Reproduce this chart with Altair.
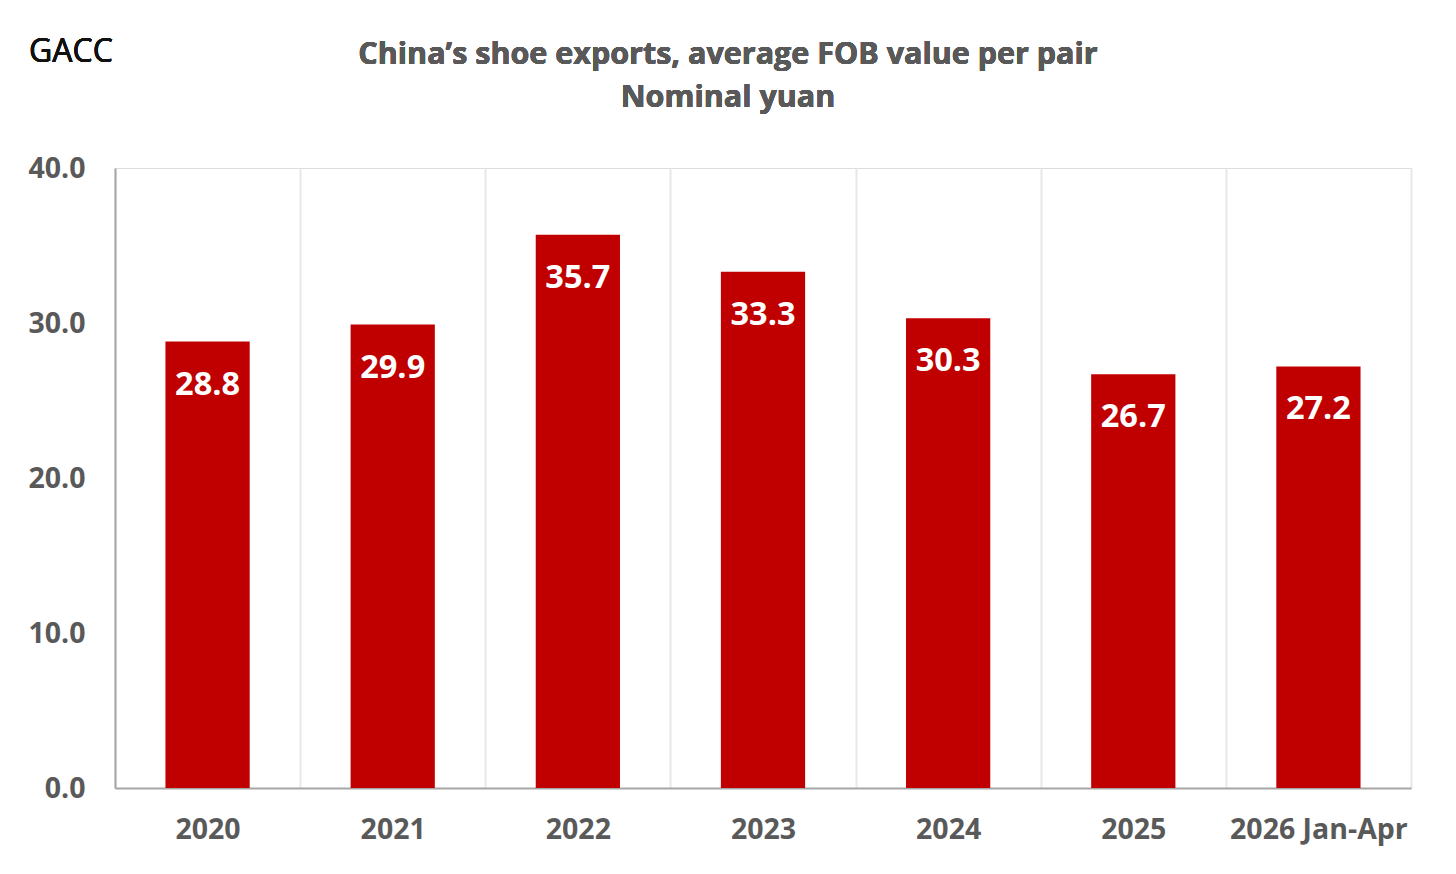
import altair as alt
import pandas as pd

categories = ["2020", "2021", "2022", "2023", "2024", "2025", "2026 Jan-Apr"]
values = [28.8, 29.9, 35.7, 33.3, 30.3, 26.7, 27.2]
title_lines = ["China\u2019s shoe exports, average FOB value per pair", "Nominal yuan"]
source_text = "GACC"

df = pd.DataFrame({"cat": categories, "val": values})

FONT = "Open Sans"
GREY = "#595959"

base = alt.Chart(df)

x_enc = alt.X(
    "cat:N",
    sort=categories,
    title=None,
    scale=alt.Scale(paddingInner=0, paddingOuter=0),
    axis=alt.Axis(
        labelAngle=0,
        labelFont=FONT,
        labelFontSize=28.5,
        labelFontWeight="bold",
        labelColor=GREY,
        labelPadding=27,
        ticks=False,
        domainColor="#a6a6a6",
        domainWidth=2,
        grid=True,
        gridColor="#e8e8e8",
        gridWidth=2,
        tickBand="extent",
    ),
)

y_enc = alt.Y(
    "val:Q",
    title=None,
    scale=alt.Scale(domain=[0, 40], nice=False),
    axis=alt.Axis(
        values=[0, 10, 20, 30, 40],
        format=".1f",
        labelFont=FONT,
        labelFontSize=28.5,
        labelFontWeight="bold",
        labelColor=GREY,
        labelPadding=30,
        ticks=False,
        grid=False,
        domainColor="#a6a6a6",
        domainWidth=2,
    ),
)

bars = base.mark_bar(color="#c00000", width=alt.RelativeBandSize(0.455)).encode(x=x_enc, y=y_enc)

labels = base.mark_text(
    color="white",
    font=FONT,
    fontSize=32.5,
    fontWeight="bold",
    baseline="middle",
    dy=43,
).encode(
    x=alt.X("cat:N", sort=categories),
    y=alt.Y("val:Q"),
    text=alt.Text("val:Q", format=".1f"),
)

source = base.mark_text(
    text=source_text,
    font=FONT,
    fontSize=32,
    color="#111111",
    align="left",
    baseline="middle",
).encode(x=alt.value(-86), y=alt.value(-116))

title1 = base.mark_text(
    text=title_lines[0],
    font=FONT,
    fontSize=30.5,
    fontWeight="bold",
    color=GREY,
    align="center",
    baseline="middle",
).encode(x=alt.value(613), y=alt.value(-113))

title2 = base.mark_text(
    text=title_lines[1],
    font=FONT,
    fontSize=30.5,
    fontWeight="bold",
    color=GREY,
    align="center",
    baseline="middle",
).encode(x=alt.value(613), y=alt.value(-70))

chart = (
    alt.layer(bars, labels, source, title1, title2)
    .properties(
        width=1296,
        height=620,
        autosize=alt.AutoSizeParams(type="none"),
        padding={"left": 107, "top": 160, "right": 37, "bottom": 70},
    )
    .configure_view(stroke="#e8e8e8", strokeWidth=2)
    .configure(background="white")
)

chart.save("out.html", embed_options={"renderer": "svg", "actions": False})
